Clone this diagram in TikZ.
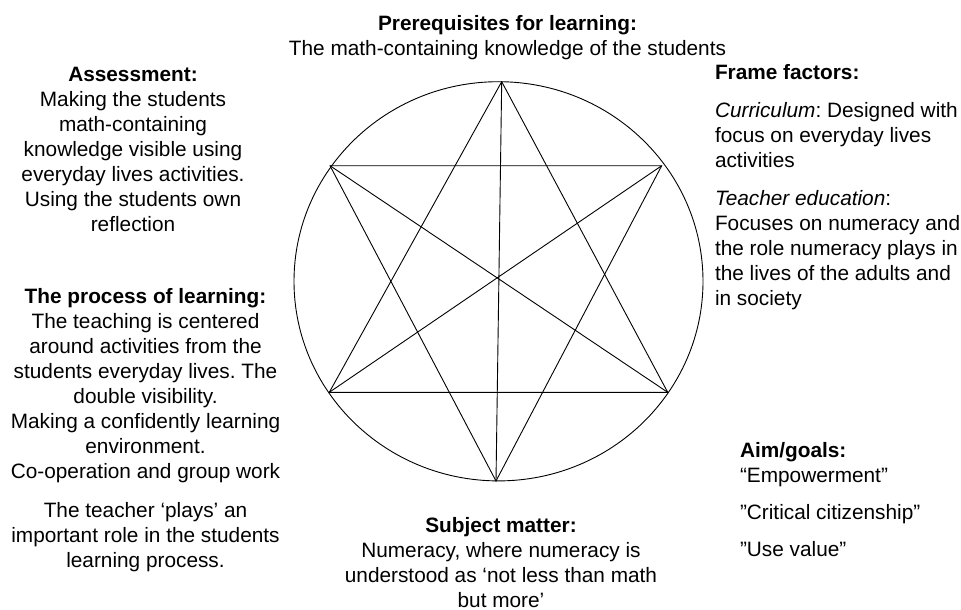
\documentclass[tikz,border=0pt]{standalone}
\usepackage{fontspec}
\setmainfont{Liberation Sans}
\frenchspacing
\tikzset{
	every node/.style={inner sep=0pt, outer sep=0pt},
	txt/.style={align=center, anchor=base, font=\fontsize{20.8}{25}\selectfont},
	txtleft/.style={align=left, anchor=base west, font=\fontsize{20.8}{25}\selectfont},
	star/.style={line width=0.9pt},
}

\begin{document}
\begin{tikzpicture}[x=1pt, y=-1pt]
	\useasboundingbox (0,0) rectangle (961,610);

	% circle
	\draw[star] (498.5,281.3) ellipse [x radius=204.5, y radius=199.6];

	% star points
	\coordinate (t) at (501.7,81.7);
	\coordinate (b) at (496,481);
	\coordinate (ul) at (330,165.7);
	\coordinate (ur) at (661.7,165.7);
	\coordinate (ll) at (329.3,392.3);
	\coordinate (lr) at (667.7,392.3);

	\draw[star] (t) -- (ll) -- (lr) -- cycle;
	\draw[star] (ul) -- (ur) -- (b) -- cycle;
	\draw[star] (t) -- (b) (ul) -- (lr) (ur) -- (ll);

	% texts (placed at the baseline of their last line)
	\node[txt] (prereq) at (507.5,56) {\textbf{Prerequisites for learning:}\\The math-containing knowledge of the students};
	\node[txt] (assess) at (133,231.7) {\textbf{Assessment:}\\Making the students\\math-containing\\knowledge visible using\\everyday lives activities.\\Using the students own\\reflection};
	\node[txt] (process) at (145.5,567) {\textbf{The process of learning:}\\The teaching is centered\\around activities from the\\students everyday lives. The\\double visibility.\\Making a confidently learning\\environment.\\Co-operation and group work\\[14pt]The teacher ‘plays’ an\\important role in the students\\learning process.};
	\node[txtleft] (frame) at (715,305) {\textbf{Frame factors:}\\[13pt]\textit{Curriculum}: Designed with\\focus on everyday lives\\activities\\[12.5pt]\textit{Teacher education}:\\Focuses on numeracy and\\the role numeracy plays in\\the lives of the adults and\\in society};
	\node[txtleft] (aim) at (740,556) {\textbf{Aim/goals:}\\“Empowerment”\\[12pt]”Critical citizenship”\\[12pt]”Use value”};
	\node[txt] (subject) at (501,607) {\textbf{Subject matter:}\\Numeracy, where numeracy is\\understood as ‘not less than math\\but more’};
\end{tikzpicture}
\end{document}
